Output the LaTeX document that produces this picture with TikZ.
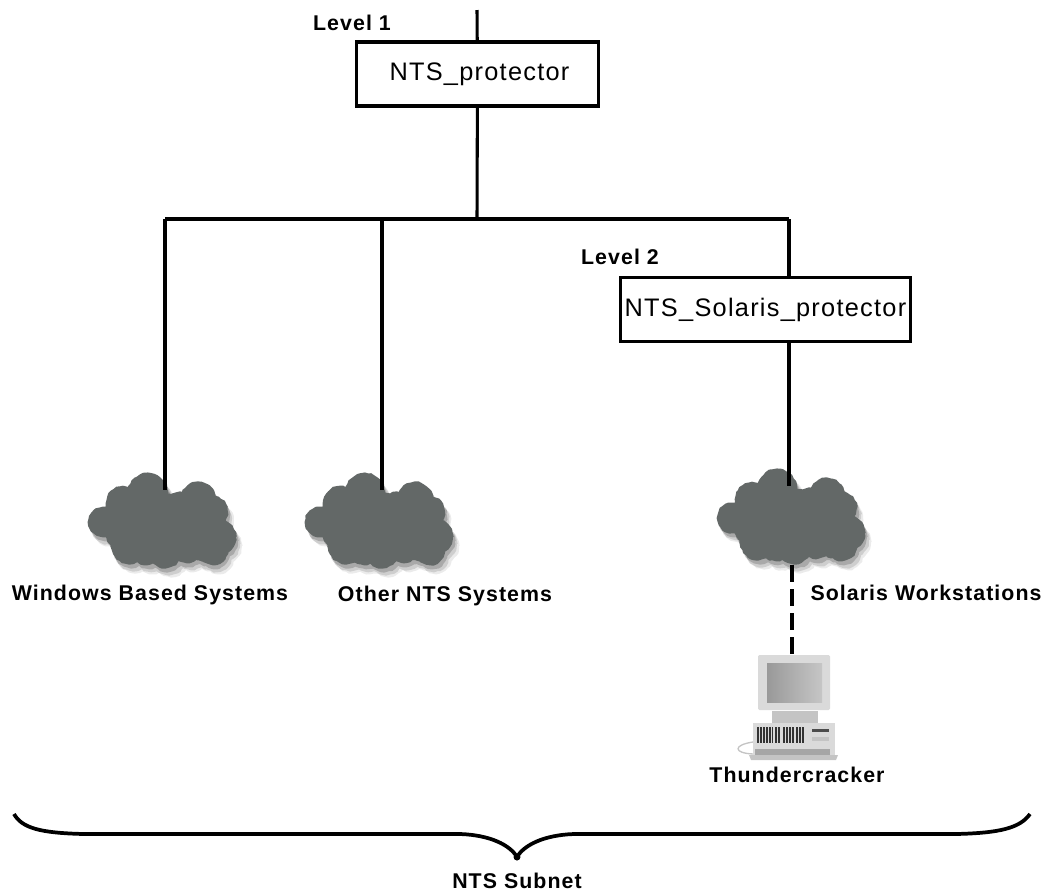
\documentclass[tikz,border=0pt]{standalone}
\usepackage{fontspec}
\setmainfont{Liberation Sans}
\newfontfamily\spacedfont[LetterSpace=5]{Liberation Sans}
\usepackage{xcolor}
\usetikzlibrary{decorations.pathmorphing}

\begin{document}
\begin{tikzpicture}[x=0.75pt,y=-0.75pt,
  boxnode/.style={draw=black,line width=2.3pt,minimum height=48pt,inner sep=0pt,font=\spacedfont\fontsize{19}{22}\selectfont},
  lbl/.style={inner sep=0pt,font=\spacedfont\fontsize{16}{19}\selectfont\bfseries},
  wire/.style={line width=2.3pt,black},
  cloudoutline/.style={decorate,decoration={random steps,segment length=2.5pt,amplitude=0.5pt}},
  cloudpic/.pic={
    \foreach \shd/\xoff/\yoff in {0.08/6/9,0.12/4/7,0.18/2/4}
      {\fill [black,opacity=\shd,shift={(\xoff,\yoff)},cloudoutline] foreach \cx/\cy/\cr in \cloudlobes {(\cx,\cy) circle (\cr)};}
    \fill [cloudgrey,cloudoutline] foreach \cx/\cy/\cr in \cloudlobes {(\cx,\cy) circle (\cr)};
  }]
\definecolor{cloudgrey}{HTML}{636867}
\definecolor{casing}{HTML}{DADADA}
\definecolor{casingedge}{HTML}{C4C4C4}
\def\cloudlobes{-62/32/15,-42/13/17,-17/3/20,33/10/18,47/22/16,-35/36/27,0/38/35,32/40/30,53/47/18,48/60/15,-36/56/18,-18/58/17,0/60/18,22/58/15,40/58/14,-8/20/18,15/20/18}
\useasboundingbox (0,0) rectangle (1047,894);
\pgfmathsetseed{7}

\node [boxnode,minimum width=182pt] (protector) at (477.5,74) {\raisebox{-2pt}{\hspace{3pt}NTS\_protector}};
\node [boxnode,minimum width=218pt] (solprotector) at (765.5,309.5) {NTS\_Solaris\_protector};
\node [lbl] (levelone) at (352,23) {Level 1};
\node [lbl] (leveltwo) at (620,257) {Level 2};

\coordinate (topend) at (477,10);
\coordinate (busmid) at (477,219);
\coordinate (busleft) at (165,219);
\coordinate (busother) at (382,219);
\coordinate (busright) at (789,219);

\foreach \nm/\xpos/\ypos/\lx/\ly/\txt in {wincloud/165/490/150/595/Windows Based Systems,othercloud/382/490/445/596/Other NTS Systems,solcloud/794/486/926/593/Solaris Workstations}
{ \coordinate (\nm) at (\xpos,\ypos);
  \pic at (\nm) {cloudpic};
  \node [lbl] (\nm text) at (\lx,\ly) {\txt};}

\coordinate (solin) at (789,486);
\coordinate (solout) at (792,565);

% computer
\fill [casing] (753,723) rectangle (835,755);
\fill [casingedge] (749,755) -- (838,755) -- (836,760) -- (751,760) -- cycle;
\fill [gray!70] (755,749) rectangle (830,755);
\draw [casingedge,line width=1pt] (753,742) .. controls (733,745) and (733,753) .. (753,754);
\fill [casingedge] (772,711) rectangle (818,723);
\fill [casing,rounded corners=1pt] (758,655) rectangle (830,710);
\shade [left color=gray!80,right color=gray!45] (767,663) rectangle (822,702);
\foreach \barx/\barw in {757/2,760/2,763/1.5,766/2,769/2,772/1,775/2,778/2,783/2,786/1.5,789/2,792/2,796/1.5,799/2,802/2}
{ \fill [black!80] (\barx,727) rectangle (\barx+\barw,743);}
\fill [black!70] (812,729) rectangle (829,732);
\fill [casingedge] (812,737) rectangle (829,741);
\coordinate (compin) at (792,655);
\node [lbl] (thunder) at (797,775) {Thundercracker};

\draw [wire] (topend) -- (protector);
\draw [wire] (protector) -- (busmid);
\draw [wire] (busleft) -- (busright);
\draw [wire] (busleft) -- (wincloud);
\draw [wire] (busother) -- (othercloud);
\draw [wire] (busright) -- (busright |- solprotector.north);
\draw [wire] (busright |- solprotector.south) -- (solin);
\draw [wire,dash pattern=on 13pt off 5pt] (solout) -- (compin);

% brace
\coordinate (braceleft) at (14,814);
\coordinate (braceright) at (1030,814);
\coordinate (bracetip) at (517,857);
\draw [line width=2.8pt] (braceleft) .. controls (22,828) and (40,833) .. (84,834) -- (460,834) .. controls (490,835) and (510,845) .. (bracetip) .. controls (524,845) and (544,835) .. (574,834) -- (956,834) .. controls (1000,833) and (1020,828) .. (braceright);
\fill (bracetip) circle (3.5);
\node [lbl] (subnet) at (517,881) {NTS Subnet};
\end{tikzpicture}
\end{document}
